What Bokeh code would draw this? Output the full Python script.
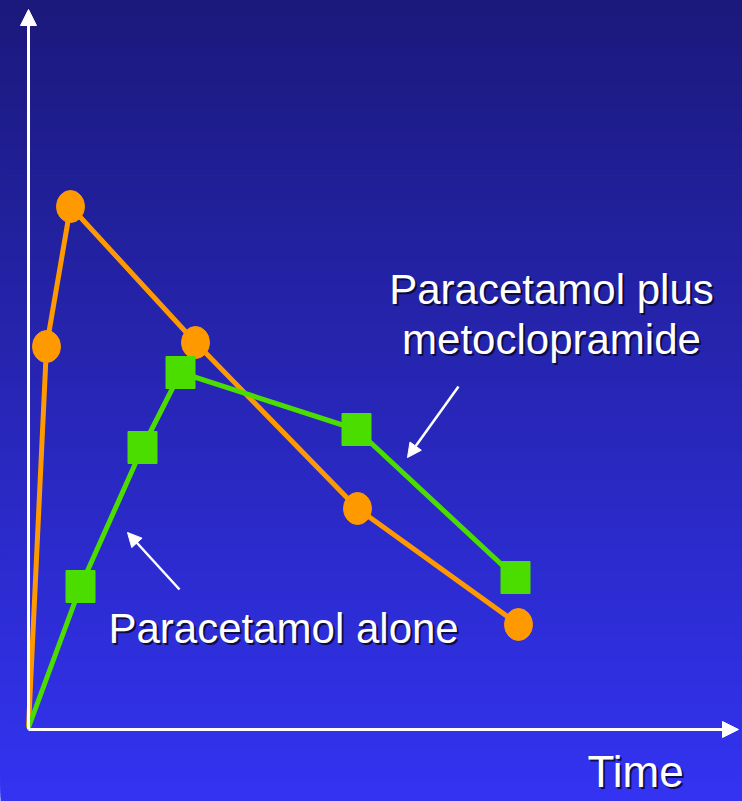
from bokeh.plotting import figure
from bokeh.models import Range1d, Arrow, NormalHead
from bokeh.core.properties import value
from bokeh.embed import file_html
from bokeh.resources import INLINE

# Plasma paracetamol concentration over time (arbitrary units)
time_plus = [0.0, 0.18, 0.42, 1.67, 3.29, 4.90]
conc_plus = [0.0, 3.81, 5.21, 3.85, 2.19, 1.03]

time_alone = [0.0, 0.52, 1.14, 1.52, 3.28, 4.87]
conc_alone = [0.0, 1.41, 2.80, 3.55, 2.98, 1.50]

label_plus = ["Paracetamol plus", "metoclopramide"]
label_alone = "Paracetamol alone"
x_label = "Time"

ORANGE = "#FF9900"
GREEN = "#4CDD00"
FONT = value("Liberation Sans")

p = figure(width=742, height=801, output_backend="svg", toolbar_location=None,
           x_axis_location=None, y_axis_location=None, min_border=0,
           outline_line_color=None)
p.x_range = Range1d(-0.28, 7.14)
p.y_range = Range1d(-0.74, 7.27)
p.grid.visible = False

# vertical gradient background: dark navy at top to bright blue at bottom.
# Each band runs up to the top edge so the next one paints over it (no seams).
n = 200
y0, y1 = -0.74, 7.27
top_rgb = (27, 25, 123)
bot_rgb = (51, 51, 242)
bottoms, colors = [], []
for i in range(n):
    b = y0 + (y1 - y0) * i / n
    f = (i + 0.5) / n  # 0 at bottom, 1 at top
    c = tuple(int(round(bot_rgb[k] + (top_rgb[k] - bot_rgb[k]) * f)) for k in range(3))
    bottoms.append(b)
    colors.append("#%02x%02x%02x" % c)
p.quad(left=-0.30, right=7.16, bottom=bottoms, top=y1 + 0.02, fill_color=colors,
       line_color=None)

# axes drawn as white arrows
p.add_layout(Arrow(x_start=0.0, y_start=-0.02, x_end=0.0, y_end=7.18,
                   line_color="white", line_width=3,
                   end=NormalHead(size=16, fill_color="white", line_color="white")))
p.add_layout(Arrow(x_start=0.0, y_start=-0.02, x_end=7.10, y_end=-0.02,
                   line_color="white", line_width=3,
                   end=NormalHead(size=16, fill_color="white", line_color="white")))

# series
p.line(time_plus, conc_plus, line_color=ORANGE, line_width=5)
p.ellipse(time_plus[1:], conc_plus[1:], width=28, height=32,
          width_units="screen", height_units="screen",
          fill_color=ORANGE, line_color=ORANGE)

p.line(time_alone, conc_alone, line_color=GREEN, line_width=5)
p.rect(time_alone[1:], conc_alone[1:], width=29, height=32,
       width_units="screen", height_units="screen",
       fill_color=GREEN, line_color=GREEN)

# pointer arrows to each curve
p.add_layout(Arrow(x_start=4.30, y_start=3.41, x_end=3.79, y_end=2.70,
                   line_color="white", line_width=2.5,
                   end=NormalHead(size=14, fill_color="white", line_color="white")))
p.add_layout(Arrow(x_start=1.51, y_start=1.38, x_end=0.99, y_end=1.95,
                   line_color="white", line_width=2.5,
                   end=NormalHead(size=14, fill_color="white", line_color="white")))


def shadow_text(x, y, txt, size, align):
    p.text([x], [y], text=[txt], text_font=FONT, text_font_size=size,
           text_color="#05051e", text_alpha=0.8, text_align=align,
           text_baseline="alphabetic", x_offset=2, y_offset=2)
    p.text([x], [y], text=[txt], text_font=FONT, text_font_size=size,
           text_color="white", text_align=align, text_baseline="alphabetic")


shadow_text(5.23, 4.38, label_plus[0], "42px", "center")
shadow_text(5.23, 3.88, label_plus[1], "42px", "center")
shadow_text(0.80, 0.99, label_alone, "42px", "left")
shadow_text(5.59, -0.44, x_label, "44px", "left")

open("out.html", "w").write(file_html(p, INLINE))
